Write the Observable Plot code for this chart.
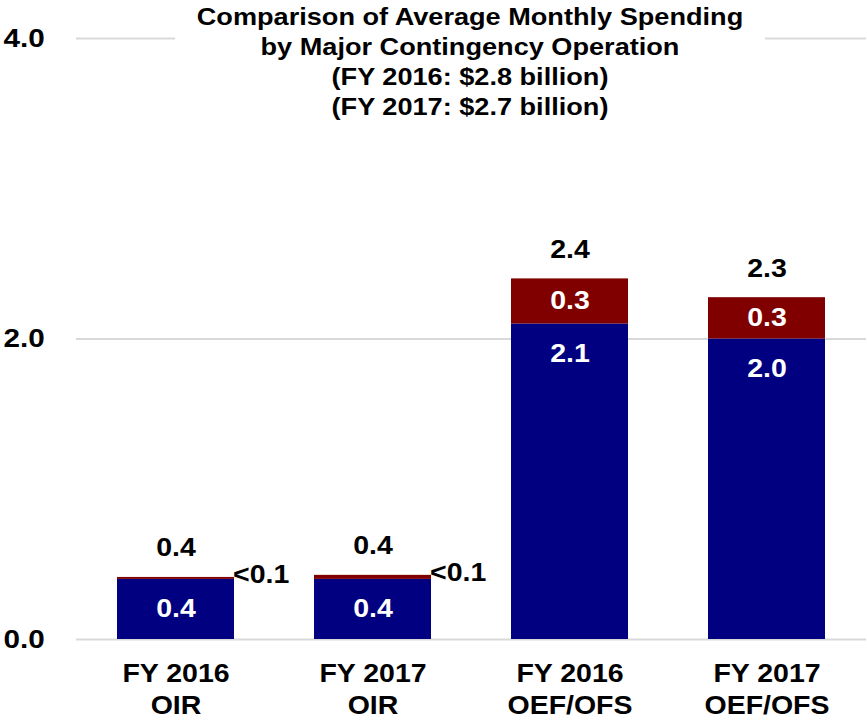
<!DOCTYPE html>
<html><head><meta charset="utf-8">
<script src="https://cdn.jsdelivr.net/npm/d3@7"></script>
<script src="https://cdn.jsdelivr.net/npm/@observablehq/plot@0.6"></script>
<style>
body{margin:0;background:#fff;}
#wrap{position:relative;width:867px;height:723px;}
#chart svg text{font-weight:bold;}
#title{position:absolute;left:175px;top:2px;width:590px;background:#fff;text-align:center;font-family:"Liberation Sans",Arial,sans-serif;font-weight:bold;font-size:24px;line-height:30px;color:#000;}
#title div{transform:scaleX(1.13);}
</style></head>
<body><div id="wrap"><div id="chart"></div><div id="title"></div></div>
<script>
const categories = ["FY 2016\nOIR", "FY 2017\nOIR", "FY 2016\nOEF/OFS", "FY 2017\nOEF/OFS"];
const baseValues = [0.4, 0.4, 2.1, 2.0];
const topValues = [0.013, 0.027, 0.3, 0.275];
const baseLabels = ["0.4", "0.4", "2.1", "2.0"];
const topLabels = ["<0.1", "<0.1", "0.3", "0.3"];
const totalLabels = ["0.4", "0.4", "2.4", "2.3"];
const yTicks = [0, 2, 4];
const titleLines = ["Comparison of Average Monthly Spending", "by Major Contingency Operation", "(FY 2016: $2.8 billion)", "(FY 2017: $2.7 billion)"];

const data = categories.map((c, i) => ({
  cat: c, base: baseValues[i], top: topValues[i], total: baseValues[i] + topValues[i],
  baseLabel: baseLabels[i], topLabel: topLabels[i], totalLabel: totalLabels[i]
}));

const FONT = '"Liberation Sans", Arial, Helvetica, sans-serif';
const chart = Plot.plot({
  width: 867, height: 723,
  marginTop: 38, marginBottom: 84, marginLeft: 76, marginRight: 1,
  style: {fontFamily: FONT, background: "#fff", overflow: "visible", color: "#000"},
  x: {domain: categories, paddingInner: 0.405, paddingOuter: 0.2025, label: null},
  y: {domain: [0, 4], label: null},
  marks: [
    Plot.gridY({ticks: yTicks, stroke: "#d9d9d9", strokeOpacity: 1, strokeWidth: 2}),
    Plot.barY(data, {x: "cat", y1: 0, y2: "base", fill: "#000080"}),
    Plot.barY(data, {x: "cat", y1: "base", y2: "total", fill: "#800000"}),
    Plot.axisY({ticks: yTicks, tickSize: 0, tickPadding: 73, textAnchor: "start", tickFormat: d => d.toFixed(1), fontSize: 26, fontWeight: "bold", fill: "#000", label: null}),
    Plot.axisX({tickSize: 0, tickPadding: 20, fontSize: 25, fontWeight: "bold", lineHeight: 1.28, fill: "#000", label: null}),
    Plot.text(data, {x: "cat", y: "total", text: "totalLabel", dy: -29, fontSize: 25, fontWeight: "bold", fill: "#000"}),
    Plot.text(data, {x: "cat", y: "base", text: "baseLabel", dy: 30, fontSize: 25, fontWeight: "bold", fill: "#fff"}),
    Plot.text(data.filter(d => !d.topLabel.startsWith("<")), {x: "cat", y: d => d.base + d.top / 2, text: "topLabel", fontSize: 25, fontWeight: "bold", fill: "#fff"}),
    Plot.text(data.filter(d => d.topLabel.startsWith("<")), {x: "cat", y: "total", text: "topLabel", textAnchor: "start", dx: 57, dy: -2, fontSize: 25, fontWeight: "bold", fill: "#000"})
  ]
});
document.getElementById("chart").appendChild(chart);

const title = document.getElementById("title");
for (const line of titleLines) {
  const d = document.createElement("div");
  d.textContent = line;
  title.appendChild(d);
}

// widen glyphs slightly to match the reference's proportions
const SX = 1.14;
chart.querySelectorAll("text").forEach(t => {
  const b = t.getBBox();
  const anchor = getComputedStyle(t).textAnchor;
  const ax = anchor === "start" ? b.x : anchor === "end" ? b.x + b.width : b.x + b.width / 2;
  const prev = t.getAttribute("transform") || "";
  t.setAttribute("transform", `${prev} translate(${ax},0) scale(${SX},1) translate(${-ax},0)`);
});
</script>
</body></html>
